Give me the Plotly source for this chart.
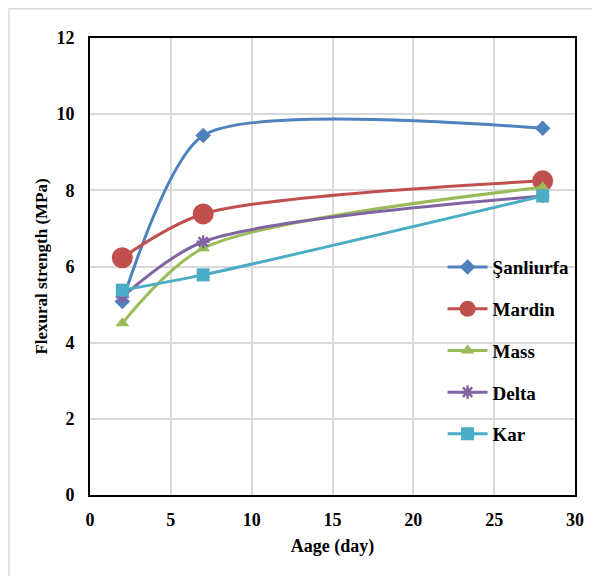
import plotly.graph_objects as go

ages = [2, 7, 28]
series_names = ["Şanliurfa", "Mardin", "Mass", "Delta", "Kar"]
sanliurfa = [5.08, 9.44, 9.63]
mardin = [6.23, 7.38, 8.25]
mass = [4.51, 6.48, 8.08]
delta = [5.2, 6.65, 7.85]
kar = [5.38, 5.78, 7.85]

values = [sanliurfa, mardin, mass, delta, kar]
colors = ["#4F81BD", "#C0504D", "#9BBB59", "#8064A2", "#4BACC6"]
symbols = ["diamond", "circle", "triangle-up", "asterisk-open", "square"]
sizes = [12, 21, 12, 11, 13]
smooth = [0.65, 0.8, 0.8, 0.8, 0.8]

FONT = "Liberation Serif, Times New Roman, serif"

fig = go.Figure()
for i, (name, vals) in enumerate(zip(series_names, values)):
    marker = dict(symbol=symbols[i], size=sizes[i], color=colors[i])
    if symbols[i] == "asterisk-open":
        marker["line"] = dict(color=colors[i], width=2.5)
    else:
        marker["line"] = dict(width=0)
    fig.add_trace(go.Scatter(
        x=ages, y=vals, name=name, mode="lines+markers",
        line=dict(color=colors[i], width=3, shape="spline", smoothing=smooth[i]),
        marker=marker, legendgroup=f"g{i}",
    ))

fig.update_layout(
    width=600, height=576,
    margin=dict(l=82, r=33, t=30, b=89),
    plot_bgcolor="white", paper_bgcolor="white",
    font=dict(family=FONT, size=18, color="black", weight="bold"),
    xaxis=dict(
        range=[0, 30], dtick=5, tick0=0,
        showgrid=True, gridcolor="#d9d9d9", gridwidth=2,
        showline=True, linecolor="black", linewidth=2, mirror=True,
        ticks="", zeroline=False, ticklabelstandoff=7,
        tickfont=dict(family=FONT, size=18, weight="bold"),
        title=dict(text="Aage (day)", font=dict(family=FONT, size=18, weight="bold"), standoff=11),
    ),
    yaxis=dict(
        range=[0, 12], dtick=2, tick0=0,
        showgrid=True, gridcolor="#d9d9d9", gridwidth=2,
        showline=True, linecolor="black", linewidth=2, mirror=True,
        ticks="", zeroline=False, ticklabelstandoff=10,
        tickfont=dict(family=FONT, size=18, weight="bold"),
        title=dict(text="Flexural strength (MPa)", font=dict(family=FONT, size=17, weight="bold"), standoff=4),
    ),
    legend=dict(
        x=0.727, y=0.54, xanchor="left", yanchor="top",
        bgcolor="rgba(255,255,255,0)", borderwidth=0,
        font=dict(family=FONT, size=19, weight="bold"),
        tracegroupgap=14, itemwidth=40,
    ),
    showlegend=True,
    shapes=[dict(type="rect", xref="paper", yref="paper",
                 x0=-0.167, x1=1.2, y0=-0.3, y1=1.064,
                 line=dict(color="#d9d9d9", width=1.5), layer="below")],
)

fig.write_html("out.html")
